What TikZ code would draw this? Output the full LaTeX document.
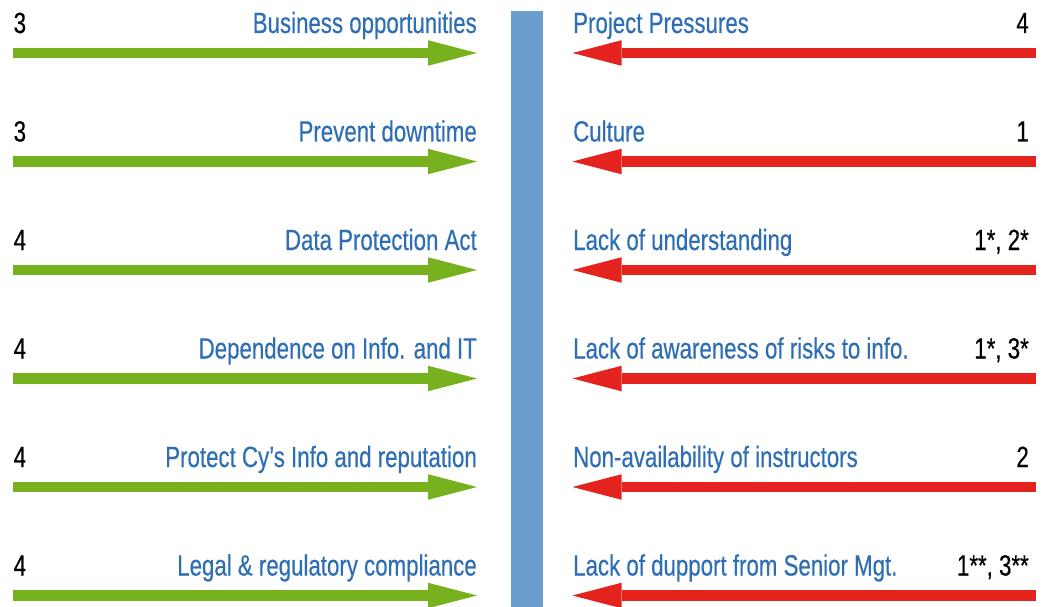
\documentclass[tikz,border=0pt]{standalone}
\usepackage{fontspec}
\setmainfont{Liberation Sans}[FakeStretch=0.76, FakeBold=0.4]
\usepackage{tikz}
\usetikzlibrary{arrows.meta}

\definecolor{drivergreen}{RGB}{119,178,30}
\definecolor{barrierred}{RGB}{228,35,30}
\definecolor{barblue}{RGB}{107,158,204}
\definecolor{labelblue}{RGB}{46,110,180}

\tikzset{
  force/.style={line width=10.5pt, -{Triangle[length=49pt, width=25.5pt, line width=0pt]}},
  label/.style={inner sep=0pt, text=labelblue, font=\fontsize{29.3}{34}\selectfont},
  score/.style={inner sep=0pt, text=black, font=\fontsize{29.3}{34}\selectfont},
}

\begin{document}
\begin{tikzpicture}[x=1pt, y=-1pt]
    \useasboundingbox (0,0) rectangle (1044,607);

    % the line between the two sides
    \node[fill=barblue, inner sep=0pt, minimum width=32pt, minimum height=596pt,
          anchor=north west] (bar) at (510.5,11) {};

    % driving forces on the left, restraining forces on the right
    \foreach \i/\gnum/\gtxt/\rtxt/\rnum in {%
        0/3/{Business opportunities}/{Project Pressures}/4,
        1/3/{Prevent downtime}/{Culture}/1,
        2/4/{Data Protection Act}/{Lack of understanding}/{1*, 2*},
        3/4/{Dependence on Info. and IT}/{Lack of awareness of risks to info.}/{1*, 3*},
        4/4/{Protect Cy’s Info and reputation}/{Non-availability of instructors}/2,
        5/4/{Legal \& regulatory compliance}/{Lack of dupport from Senior Mgt.}/{1**, 3**}} {
        \pgfmathsetmacro{\rowy}{53+108.5*\i}

        \coordinate (gs\i) at (13,\rowy);
        \coordinate (ge\i) at (477,\rowy);
        \coordinate (rs\i) at (1036,\rowy);
        \coordinate (re\i) at (572.5,\rowy);

        \draw[force, drivergreen] (gs\i) -- (ge\i);
        \draw[force, barrierred] (rs\i) -- (re\i);

        \node[score, anchor=base west] (gn\i) at (13.5,\rowy-20) {\gnum};
        \node[label, anchor=base east] (gl\i) at (477,\rowy-20) {\gtxt};
        \node[label, anchor=base west] (rl\i) at (573,\rowy-20) {\rtxt};
        \node[score, anchor=base east] (rn\i) at (1029,\rowy-20) {\rnum};
    }
\end{tikzpicture}
\end{document}
